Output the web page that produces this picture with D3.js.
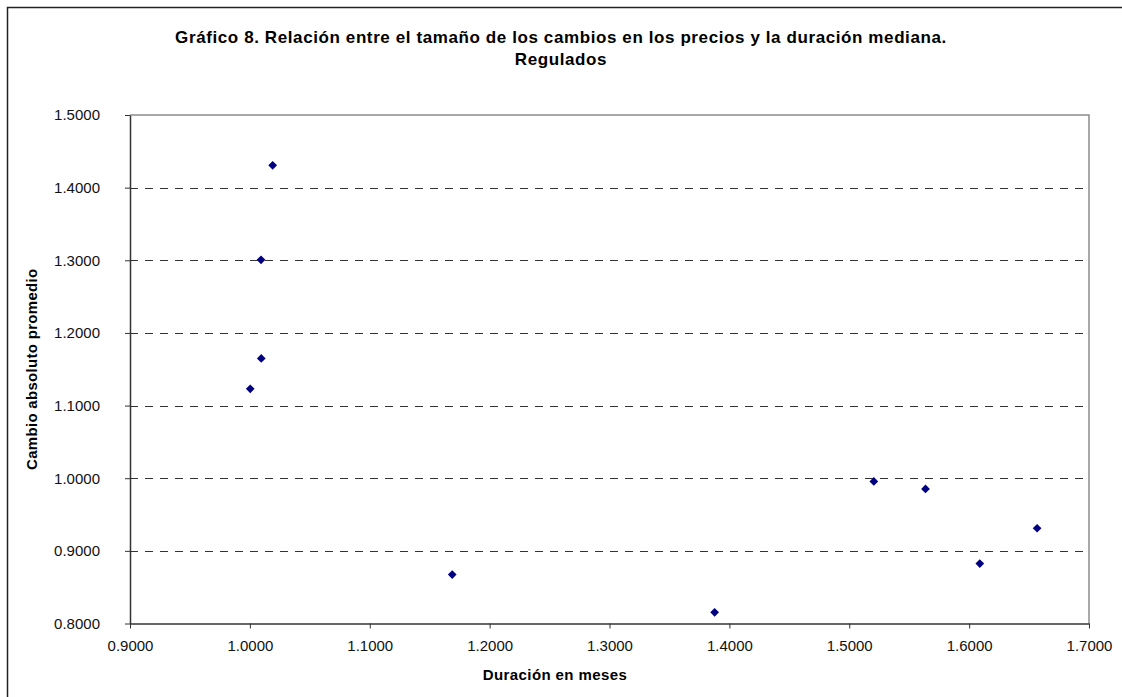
<!DOCTYPE html>
<html>
<head>
<meta charset="utf-8">
<script src="https://cdn.jsdelivr.net/npm/d3@7"></script>
<style>
  body { margin: 0; background: #fff; }
  svg { display: block; font-family: Arial, "Liberation Sans", sans-serif; }
</style>
</head>
<body>
<script>
// duración mediana (x) y cambio absoluto promedio (y)
var duracion = [1.0190, 1.0093, 1.0095, 1.0003, 1.1688, 1.3877, 1.5205, 1.5636, 1.6089, 1.6567];
var cambio = [1.4307, 1.3007, 1.1649, 1.1230, 0.8673, 0.8154, 0.9955, 0.9853, 0.8825, 0.9311];
var xTicks = [0.9, 1.0, 1.1, 1.2, 1.3, 1.4, 1.5, 1.6, 1.7];
var yTicks = [0.8, 0.9, 1.0, 1.1, 1.2, 1.3, 1.4, 1.5];
var titleLines = ["Gráfico 8. Relación entre el tamaño de los cambios en los precios y la duración mediana.", "Regulados"];

var width = 1122, height = 697;
var margin = {left: 130, top: 115, right: 1122 - 1089, bottom: 697 - 623.5};

var svg = d3.select("body")
    .append("svg")
    .attr("width", width)
    .attr("height", height);

// chart frame
svg.append("rect")
    .attr("x", 7.5).attr("y", 7.5)
    .attr("width", 1130).attr("height", 710)
    .attr("fill", "#fff")
    .attr("stroke", "#222")
    .attr("stroke-width", 1.5);

var x = d3.scaleLinear()
    .domain([0.9, 1.7])
    .range([margin.left, width - margin.right]);

var y = d3.scaleLinear()
    .domain([0.8, 1.5])
    .range([height - margin.bottom, margin.top]);

// gridlines
svg.append("g")
    .selectAll("line")
    .data(yTicks.slice(1, -1))
    .enter().append("line")
    .attr("x1", x(0.9)).attr("x2", x(1.7))
    .attr("y1", function (d) { return Math.round(y(d)) + 0.5; })
    .attr("y2", function (d) { return Math.round(y(d)) + 0.5; })
    .attr("stroke", "#333")
    .attr("stroke-width", 1)
    .attr("stroke-dasharray", "8,7");

// top and right plot border
svg.append("path")
    .attr("d", "M" + x(0.9) + "," + y(1.5) + "H" + x(1.7) + "V" + y(0.8))
    .attr("fill", "none")
    .attr("stroke", "#8c8c8c")
    .attr("stroke-width", 1.5);

var fmt = d3.format(".4f");

var xAxis = svg.append("g")
    .attr("transform", "translate(0," + y(0.8) + ")")
    .call(d3.axisBottom(x).tickValues(xTicks).tickFormat(fmt).tickSize(5).tickSizeOuter(0));

var yAxis = svg.append("g")
    .attr("transform", "translate(" + x(0.9) + ",0)")
    .call(d3.axisLeft(y).tickValues(yTicks).tickFormat(fmt).tickSize(5).tickSizeOuter(0));

[xAxis, yAxis].forEach(function (a) {
    a.select(".domain").attr("stroke", "#333").attr("stroke-width", 1.5);
    a.selectAll(".tick line").attr("stroke", "#333");
    a.selectAll("text")
        .attr("fill", "#111")
        .style("font-size", "15px")
        .style("font-family", "Arial, 'Liberation Sans', sans-serif");
});
xAxis.selectAll("text").attr("dy", "0.71em").attr("y", 17);
yAxis.selectAll("text").attr("x", -30);

// points
var diamond = d3.symbol().type(d3.symbolSquare).size(38);
svg.append("g")
    .selectAll("path")
    .data(duracion)
    .enter().append("path")
    .attr("d", diamond)
    .attr("transform", function (d, i) {
        return "translate(" + x(d) + "," + y(cambio[i]) + ") rotate(45)";
    })
    .attr("fill", "#000080");

// title
svg.append("g")
    .selectAll("text")
    .data(titleLines)
    .enter().append("text")
    .attr("x", 561)
    .attr("y", function (d, i) { return 43 + i * 22; })
    .attr("text-anchor", "middle")
    .style("font-size", "17px")
    .style("font-weight", "bold")
    .style("letter-spacing", "0.6px")
    .attr("fill", "#000")
    .text(function (d) { return d; });

// axis titles
svg.append("text")
    .attr("x", 555)
    .attr("y", 680)
    .attr("text-anchor", "middle")
    .style("font-size", "15px")
    .style("font-weight", "bold")
    .style("letter-spacing", "0.4px")
    .text("Duración en meses");

svg.append("text")
    .attr("transform", "translate(37," + (y(0.8) + y(1.5)) / 2 + ") rotate(-90)")
    .attr("text-anchor", "middle")
    .style("font-size", "15px")
    .style("font-weight", "bold")
    .style("letter-spacing", "0.3px")
    .text("Cambio absoluto promedio");
</script>
</body>
</html>
